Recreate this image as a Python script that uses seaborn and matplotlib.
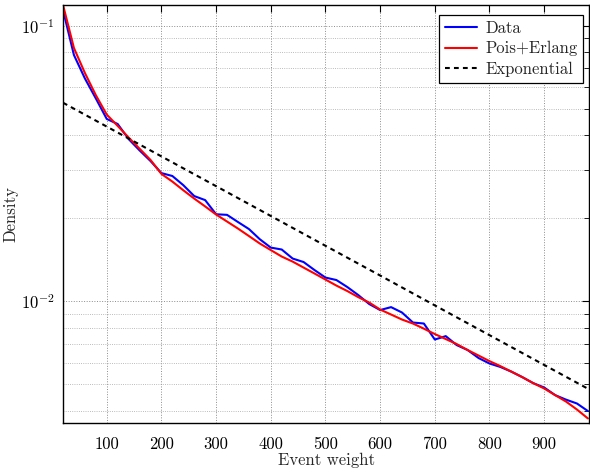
import numpy as np
import pandas as pd
import matplotlib
matplotlib.use("Agg")
import matplotlib.pyplot as plt
import seaborn as sns
from matplotlib.ticker import FixedLocator, NullFormatter

# ---- data ----
x_vals = [20, 40, 60, 80, 100, 120, 140, 160, 180, 200, 220, 240, 260, 280, 300,
          320, 340, 360, 380, 400, 420, 440, 460, 480, 500, 520, 540, 560, 580, 600,
          620, 640, 660, 680, 700, 720, 740, 760, 780, 800, 820, 840, 860, 880, 900,
          920, 940, 960, 980]
data_vals = [0.114, 0.0783, 0.0644, 0.0545, 0.0459, 0.0440, 0.0388, 0.0353, 0.0323,
             0.0292, 0.0285, 0.0264, 0.0241, 0.0233, 0.0207, 0.0206, 0.0194, 0.0183,
             0.0168, 0.01567, 0.01542, 0.0143, 0.01389, 0.01299, 0.01220, 0.01195,
             0.01127, 0.01054, 0.00978, 0.00930, 0.00953, 0.00911, 0.00838, 0.00831,
             0.00727, 0.00748, 0.00694, 0.00666, 0.00623, 0.00595, 0.00578, 0.00556,
             0.00531, 0.00505, 0.00487, 0.00457, 0.00440, 0.00426, 0.00400]
pois_erlang_vals = [0.119, 0.0830, 0.0674, 0.0560, 0.0476, 0.0433, 0.0393, 0.0358,
                    0.0326, 0.0290, 0.0272, 0.0253, 0.0236, 0.0221, 0.02066, 0.01948,
                    0.01837, 0.01726, 0.01621, 0.01535, 0.01454, 0.01394, 0.01326,
                    0.01262, 0.01200, 0.01141, 0.01090, 0.01036, 0.00990, 0.00934,
                    0.00896, 0.00859, 0.00831, 0.00796, 0.00761, 0.00730, 0.00700,
                    0.00666, 0.00636, 0.00607, 0.00582, 0.00556, 0.00531, 0.00505,
                    0.00483, 0.00457, 0.00433, 0.00405, 0.00376]
exp_x = [20, 100, 200, 300, 400, 500, 600, 700, 800, 900, 980]
exp_vals = [0.05256, 0.04306, 0.03357, 0.02618, 0.02041, 0.01591, 0.01241,
            0.00967, 0.00754, 0.00588, 0.00482]
x_ticks = [100, 200, 300, 400, 500, 600, 700, 800, 900]
y_major = [0.01, 0.1]
y_major_labels = [r"$10^{-2}$", r"$10^{-1}$"]

sns.set_style("white")
plt.rcParams["font.family"] = ["cmr10", "DejaVu Serif"]
plt.rcParams["mathtext.fontset"] = "cm"
plt.rcParams["axes.unicode_minus"] = False
plt.rcParams["axes.formatter.use_mathtext"] = True

fig = plt.figure(figsize=(5.9, 4.76), dpi=100)
ax = fig.add_axes([63 / 590, 1 - 423 / 476, (589 - 63) / 590, (423 - 5) / 476])

df_data = pd.DataFrame({"x": x_vals, "y": data_vals})
df_fit = pd.DataFrame({"x": x_vals, "y": pois_erlang_vals})
df_exp = pd.DataFrame({"x": exp_x, "y": exp_vals})

sns.lineplot(data=df_data, x="x", y="y", ax=ax, color="#0000ff", lw=1.5,
             estimator=None, label="Data")
sns.lineplot(data=df_fit, x="x", y="y", ax=ax, color="#ff0000", lw=1.5,
             estimator=None, label="Pois+Erlang")
sns.lineplot(data=df_exp, x="x", y="y", ax=ax, color="black", lw=1.5,
             estimator=None, label="Exponential", dashes=False)
ax.lines[-1].set_dashes((2.3, 2.0))

ax.set_yscale("log")
ax.set_xlim(20, 982)
ax.set_ylim(0.00362, 0.1189)

ax.xaxis.set_major_locator(FixedLocator(x_ticks))
ax.set_xticklabels([str(t) for t in x_ticks])
ax.yaxis.set_major_locator(FixedLocator(y_major))
ax.set_yticklabels(y_major_labels)
minors = [m * 10.0 ** e for e in (-3, -2) for m in range(2, 10)]
ax.yaxis.set_minor_locator(FixedLocator(minors))
ax.yaxis.set_minor_formatter(NullFormatter())

ax.tick_params(which="both", direction="in", top=True, right=True,
               labelsize=12, colors="black")
ax.tick_params(which="major", length=5, width=0.8, pad=6)
ax.tick_params(axis="x", which="major", pad=10)
ax.tick_params(which="minor", length=3.5, width=0.6)

ax.grid(True, which="major", axis="both", linestyle=":", color="0.55", lw=0.7)
ax.grid(True, which="minor", axis="y", linestyle=":", color="0.65", lw=0.6)

for s in ax.spines.values():
    s.set_color("black")
    s.set_linewidth(1.0)

ax.set_xlabel("Event weight", fontsize=12, labelpad=0)
ax.set_ylabel("Density", fontsize=12, labelpad=2)

leg = ax.legend(loc="upper right", bbox_to_anchor=(0.989, 0.976), borderaxespad=0,
                fontsize=12, frameon=True, fancybox=False, edgecolor="black",
                handlelength=1.9, handletextpad=0.5, labelspacing=0.3,
                borderpad=0.35)
leg.get_frame().set_linewidth(0.9)
leg.get_frame().set_alpha(1)

fig.savefig("out.png", dpi=100)
